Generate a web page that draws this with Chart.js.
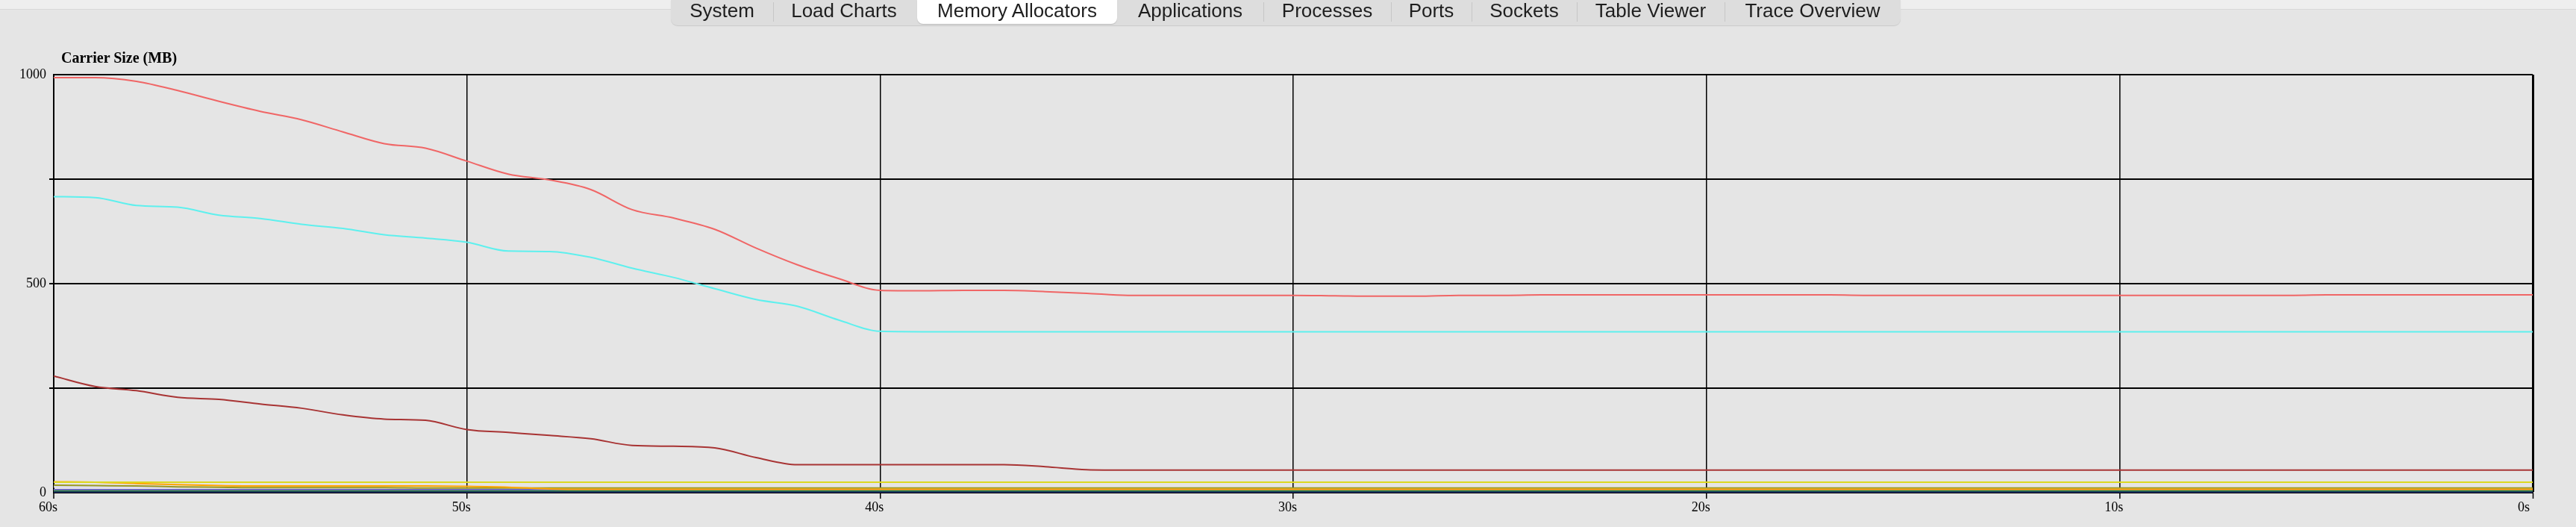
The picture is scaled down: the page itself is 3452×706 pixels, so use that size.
<!DOCTYPE html>
<html>
<head>
<meta charset="utf-8">
<script src="https://cdn.jsdelivr.net/npm/chart.js@4.4.1/dist/chart.umd.min.js"></script>
<style>
  html, body { margin:0; padding:0; }
  body { width:3452px; height:706px; overflow:hidden; position:relative; background:#e5e5e5; }
  #strip { position:absolute; left:0; top:0; width:3452px; height:12px; background:#eeeeee; border-bottom:1px solid #d8d8d8; }
  #c { position:absolute; left:0; top:0; }
  #title { position:absolute; left:82px; top:67px; font:bold 20px "Liberation Serif", serif; line-height:20px; color:#000; white-space:nowrap; }
  #tabs { position:absolute; left:899px; top:0; width:1648px; height:34px; background:#dddddd; border-radius:0 0 9px 9px; box-shadow:0 1px 1px rgba(0,0,0,0.12); }
  .tab { position:absolute; top:0; height:32px; font:26px "Liberation Sans", Arial, sans-serif; line-height:29px; color:#1e1e1e; text-align:center; white-space:nowrap; }
  .tab.sel { background:#ffffff; border-radius:0 0 8px 8px; box-shadow:0 1px 1px rgba(0,0,0,0.15); }
  .sep { position:absolute; top:3px; width:1px; height:26px; background:#c6c6c6; }
</style>
</head>
<body>
<div id="strip"></div>
<canvas id="c" width="3452" height="706"></canvas>
<div id="title">Carrier Size (MB)</div>
<div id="tabs">
  <div class="tab" style="left:0;width:137px">System</div>
  <div class="sep" style="left:137px"></div>
  <div class="tab" style="left:137px;width:190px">Load Charts</div>
  <div class="tab sel" style="left:330px;width:268px">Memory Allocators</div>
  <div class="tab" style="left:598px;width:196px">Applications</div>
  <div class="sep" style="left:794px"></div>
  <div class="tab" style="left:794px;width:171px">Processes</div>
  <div class="sep" style="left:965px"></div>
  <div class="tab" style="left:965px;width:108px">Ports</div>
  <div class="sep" style="left:1073px"></div>
  <div class="tab" style="left:1073px;width:141px">Sockets</div>
  <div class="sep" style="left:1214px"></div>
  <div class="tab" style="left:1214px;width:198px">Table Viewer</div>
  <div class="sep" style="left:1412px"></div>
  <div class="tab" style="left:1412px;width:236px">Trace Overview</div>
</div>
<script>
// seconds ago (x axis)
const seconds = [60,59,58,57,56,55,54,53,52,51,50,49,48,47,46,45,44,43,42,41,40,39,38,37,36,35,34,33,32,31,30,29,28,27,26,25,24,23,22,21,20,19,18,17,16,15,14,13,12,11,10,9,8,7,6,5,4,3,2,1,0];

// series values (MB), one per second
const seriesRed = [993,993,984,962,936,912,892,863,835,824,793,762,748,725,677,657,630,585,545,512,484,483,484,484,481,477,472,472,472,472,472,471,470,470,472,472,473,473,473,473,473,473,473,473,472,472,472,472,472,472,472,472,472,472,472,473,473,473,473,473,473];
const seriesCyan = [708,706,687,683,664,656,642,632,617,609,599,578,577,563,537,515,488,462,446,413,386,385,385,385,385,385,385,385,385,385,385,385,385,385,385,385,385,385,385,385,385,385,385,385,385,385,385,385,385,385,385,385,385,385,385,385,385,385,385,385,385];
const seriesBrown = [279,254,244,228,223,212,202,186,176,173,151,144,137,129,113,111,107,84,67,67,67,67,67,67,62,55,54,54,54,54,54,54,54,54,54,54,54,54,54,54,54,54,54,54,54,54,54,54,54,54,54,54,54,54,54,54,54,54,54,54,54];
const seriesYellow = [25,25,25,25,25,25,25,25,25,25,25,25,25,25,25,25,25,25,25,25,25,25,25,25,25,25,25,25,25,25,25,25,25,25,25,25,25,25,25,25,25,25,25,25,25,25,25,25,25,25,25,25,25,25,25,25,25,25,25,25,25];
const seriesOrange = [26,25,22,19,17,16,16,16,16,16,15,13,9,8,8,8,8,8,8,8,8,8,8,8,8,8,8,8,8,8,8,8,8,8,8,8,8,8,8,8,8,8,8,8,8,8,8,8,8,8,8,8,8,8,8,8,8,8,8,8,8];
const seriesOlive = [18,17,16,14,13,12,12,12,12,11,11,11,11,11,11,11,11,11,11,11,11,11,11,11,11,11,11,11,11,11,11,11,11,11,11,11,11,11,11,11,11,11,11,11,11,11,11,11,11,11,11,11,11,11,11,11,11,11,11,11,11];
const seriesLavender = [14,13,13,12,12,11,11,11,11,11,11,11,10,10,10,10,10,10,10,10,10,10,10,10,10,10,10,10,10,10,10,10,10,10,10,10,10,10,10,10,10,10,10,10,10,10,10,10,10,10,10,10,10,10,10,10,10,10,10,10,10];
const seriesSlate = [7,7,7,7,7,7,7,7,7,7,7,7,7,7,7,7,7,7,7,7,7,7,7,7,7,7,7,7,7,7,7,7,7,7,7,7,7,7,7,7,7,7,7,7,7,7,7,7,7,7,7,7,7,7,7,7,7,7,7,7,7];
const seriesGreen = [5,5,5,5,5,5,5,5,5,5,5,5,5,5,5,5,5,5,5,5,5,5,5,5,5,5,5,5,5,5,5,5,5,5,5,5,5,5,5,5,5,5,5,5,5,5,5,5,5,5,5,5,5,5,5,5,5,5,5,5,5];
const seriesNavy = [2,2,2,2,2,2,2,2,2,2,2,2,2,2,2,2,2,2,2,2,2,2,2,2,2,2,2,2,2,2,2,2,2,2,2,2,2,2,2,2,2,2,2,2,2,2,2,2,2,2,2,2,2,2,2,2,2,2,2,2,2];

const yTickLabels = [0, 500, 1000];

const datasets = [
  { data: seriesRed, borderColor: '#f06666' },
  { data: seriesCyan, borderColor: '#5ef0ee' },
  { data: seriesBrown, borderColor: '#a83434' },
  { data: seriesYellow, borderColor: '#dcd820' },
  { data: seriesOrange, borderColor: '#ffa500' },
  { data: seriesOlive, borderColor: '#999922' },
  { data: seriesLavender, borderColor: '#dcdcf2' },
  { data: seriesSlate, borderColor: '#6a6ab8' },
  { data: seriesGreen, borderColor: '#2e8b2e' },
  { data: seriesNavy, borderColor: '#1a2a6a' }
];

const serif = { family: '"Liberation Serif", "Times New Roman", serif', size: 18 };

new Chart(document.getElementById('c'), {
  type: 'line',
  data: { labels: seconds, datasets: datasets },
  options: {
    responsive: false,
    animation: false,
    layout: { padding: { left: 0, right: 58, top: 100, bottom: 0 } },
    plugins: { legend: { display: false }, tooltip: { enabled: false }, title: { display: false } },
    elements: {
      point: { radius: 0 },
      line: { borderWidth: 2, cubicInterpolationMode: 'monotone', fill: false }
    },
    scales: {
      x: {
        type: 'linear', min: 0, max: 60, reverse: true,
        afterFit: s => { s.height = 46; },
        grid: {
          color: '#000',
          lineWidth: c => (c.tick && c.tick.value === 0) ? 3 : ((c.tick && c.tick.value === 60) ? 2 : 1.5),
          tickLength: 8, tickColor: '#000', tickWidth: 1.5
        },
        border: { display: true, color: '#000', width: 2 },
        ticks: {
          stepSize: 10, align: 'start', labelOffset: -20, padding: 1, color: '#000',
          font: serif, maxRotation: 0, autoSkip: false,
          callback: v => v + 's'
        }
      },
      y: {
        min: 0, max: 1000,
        afterFit: s => { s.width = 72; },
        grid: {
          color: '#000', lineWidth: 2, tickLength: 6,
          tickColor: c => (c.tick && (c.tick.value === 0 || c.tick.value === 1000)) ? 'rgba(0,0,0,0)' : '#000'
        },
        border: { display: true, color: '#000', width: 2 },
        ticks: {
          stepSize: 250, padding: 4, color: '#000', font: serif,
          callback: v => yTickLabels.includes(v) ? String(v) : ''
        }
      }
    }
  }
});
</script>
</body>
</html>
